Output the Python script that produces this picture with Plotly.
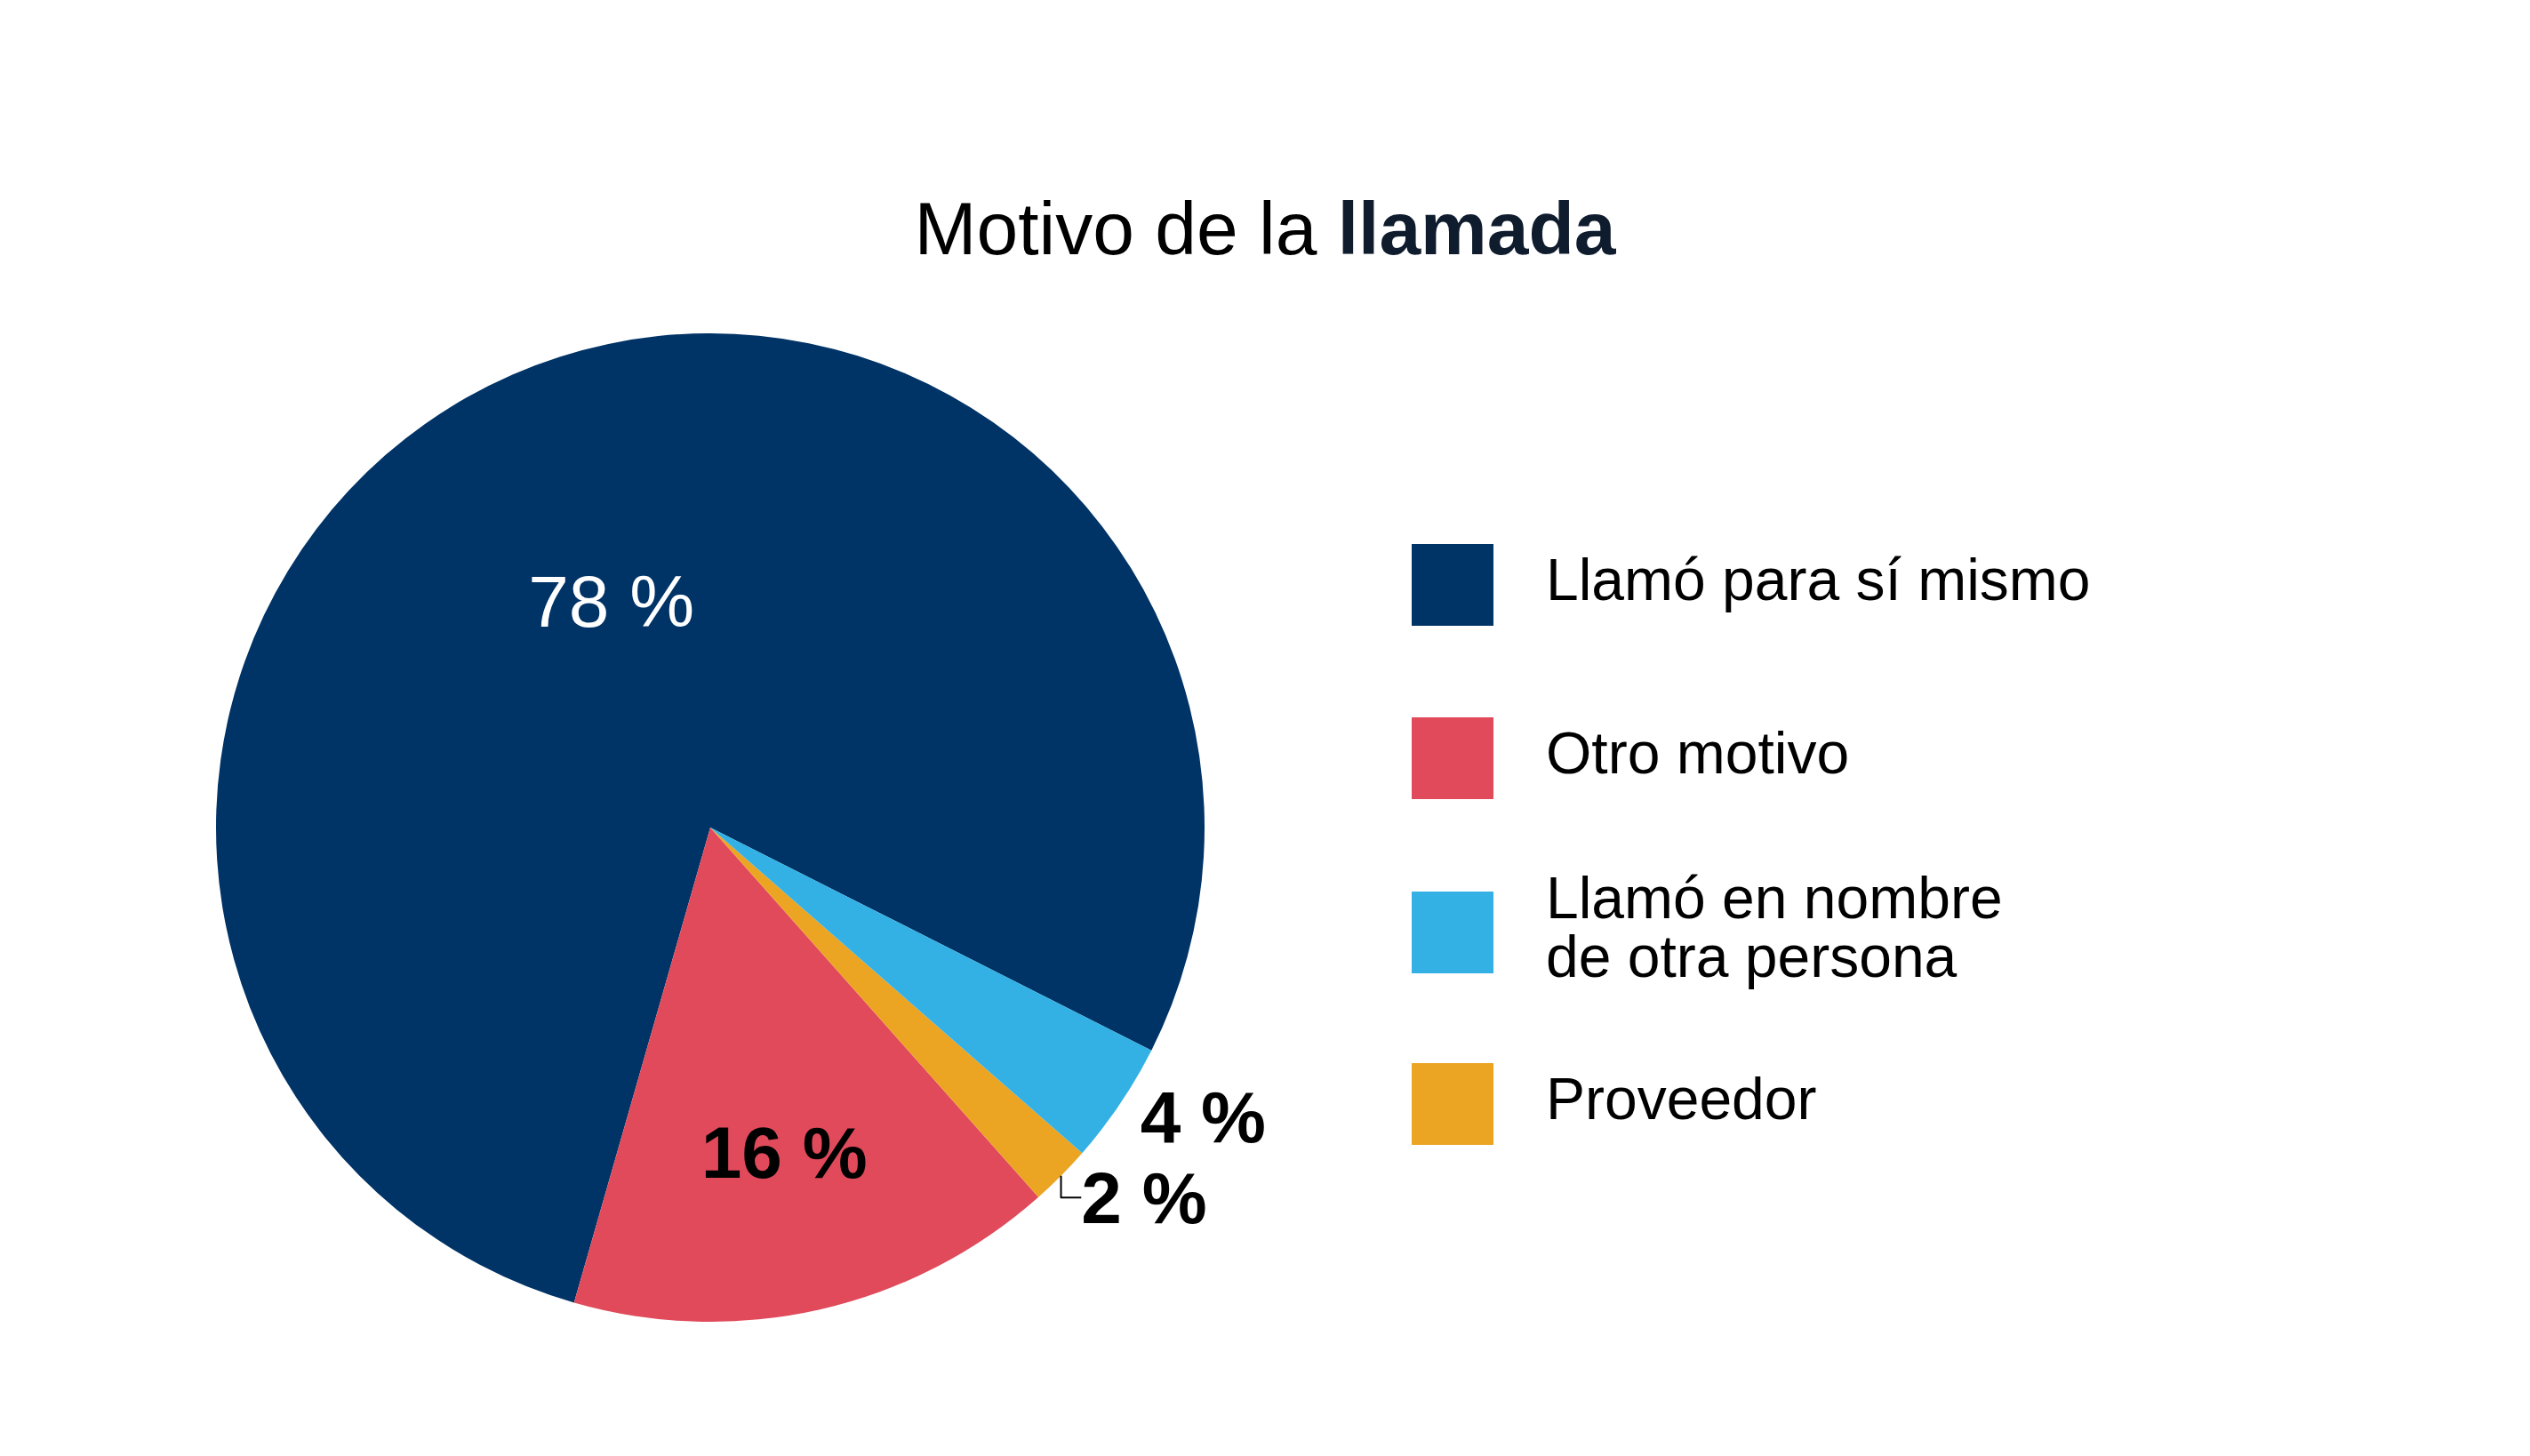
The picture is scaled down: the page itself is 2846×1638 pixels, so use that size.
import plotly.graph_objects as go

# datos (en el orden de la leyenda)
categorias = ['Llamó para sí mismo', 'Otro motivo', 'Llamó en nombre de otra persona', 'Proveedor']
lineas_leyenda = [['Llamó para sí mismo'], ['Otro motivo'], ['Llamó en nombre', 'de otra persona'], ['Proveedor']]
porcentajes = [78, 16, 4, 2]
colores = ['#003366', '#e04a5a', '#33b1e4', '#eca423']

# orden de los sectores en la torta (antihorario desde "para sí mismo")
orden_torta = [0, 1, 3, 2]
posicion_texto = ['inside', 'inside', 'outside', 'outside']
plantilla_texto = ['%{value} %', '<b>%{value} %</b>', '<b>%{value} %</b>', '<b>%{value} %</b>']
color_texto = ['white', 'black', 'black', 'black']

W, H = 2846, 1638
fuente = 'Liberation Sans'
cx, cy, r = 791, 923, 556   # centro y radio de la torta en px

fig = go.Figure()
fig.add_trace(go.Pie(
    labels=[categorias[i] for i in orden_torta],
    values=[porcentajes[i] for i in orden_torta],
    marker=dict(colors=[colores[i] for i in orden_torta], line=dict(width=0)),
    sort=False,
    direction='counterclockwise',
    rotation=196,
    texttemplate=[plantilla_texto[i] for i in orden_torta],
    textposition=[posicion_texto[i] for i in orden_torta],
    textfont=dict(family=fuente, size=82, color=[color_texto[i] for i in orden_torta]),
    insidetextorientation='horizontal',
    domain=dict(x=[(cx - r) / W, (cx + r) / W], y=[(H - cy - r) / H, (H - cy + r) / H]),
    showlegend=False,
    hoverinfo='skip',
))

# leyenda hecha a mano (cuadros grandes)
tops = [604, 799, 995, 1188]
lado = 92
for k in range(len(categorias)):
    fig.add_shape(type='rect', xref='paper', yref='paper',
                  x0=1580 / W, x1=(1580 + lado) / W,
                  y0=1 - (tops[k] + lado) / H, y1=1 - tops[k] / H,
                  fillcolor=colores[k], line=dict(width=0))
    n = len(lineas_leyenda[k])
    centro = tops[k] + lado / 2
    for j, txt in enumerate(lineas_leyenda[k]):
        yy = centro + (j - (n - 1) / 2) * 66 - 6
        fig.add_annotation(xref='paper', yref='paper', x=1729 / W, y=1 - yy / H,
                           xanchor='left', yanchor='middle', showarrow=False,
                           text=txt, font=dict(family=fuente, size=66, color='black'))

fig.update_layout(
    width=W, height=H,
    margin=dict(l=0, r=0, t=0, b=0),
    paper_bgcolor='white', plot_bgcolor='white',
    title=dict(text='Motivo de la <b><span style="color:#0f1c2e">llamada</span></b>',
               x=1415 / W, xanchor='center', y=1 - 249 / H, yanchor='middle',
               font=dict(family=fuente, size=84, color='black')),
)

fig.write_html('out.html')
